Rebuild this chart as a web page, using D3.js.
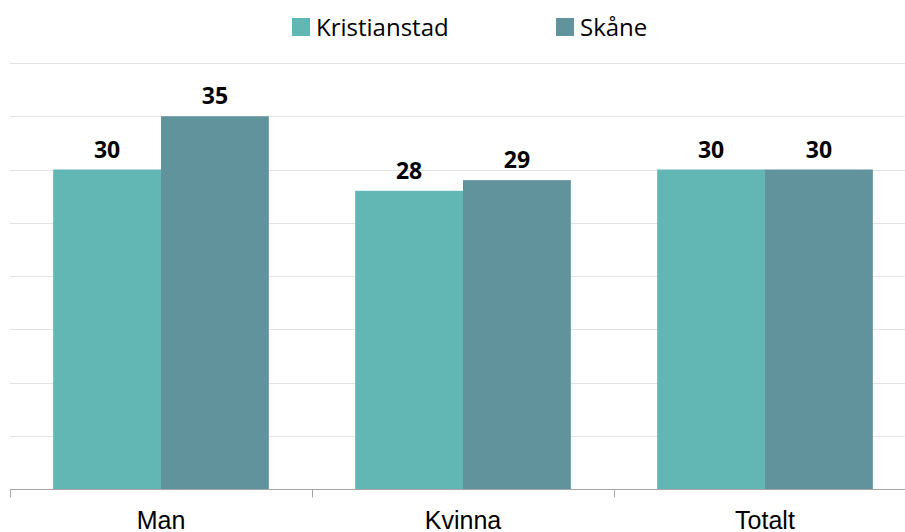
<!DOCTYPE html>
<html>
<head>
<meta charset="utf-8">
<script src="https://cdn.jsdelivr.net/npm/d3@7"></script>
<style>
body { margin: 0; background: #fff; }
</style>
</head>
<body>
<script>
const width = 905;
const height = 532;

const categories = ["Man", "Kvinna", "Totalt"];
const seriesNames = ["Kristianstad", "Skåne"];
const kristianstad = [30, 28, 30];
const skane = [35, 29, 30];
const colors = ["#62b7b4", "#60939c"];
const gridTicks = [5, 10, 15, 20, 25, 30, 35, 40];

const svg = d3.select("body")
 .append("svg")
 .attr("width", width)
 .attr("height", height);

const plotLeft = 10, plotRight = 916, plotTop = 63, plotBottom = 489;

const x = d3.scaleBand()
 .domain(categories)
 .range([plotLeft, plotRight])
 .paddingInner(0)
 .paddingOuter(0);

const inner = d3.scaleBand()
 .domain(seriesNames)
 .range([0, x.bandwidth()])
 .paddingOuter(0.4)
 .paddingInner(0);

const y = d3.scaleLinear()
 .domain([0, 40])
 .range([plotBottom, plotTop]);

// gridlines
svg.selectAll("line.grid")
 .data(gridTicks)
 .enter()
 .append("line")
 .attr("class", "grid")
 .attr("x1", plotLeft)
 .attr("x2", width)
 .attr("y1", d => Math.round(y(d)) + 0.5)
 .attr("y2", d => Math.round(y(d)) + 0.5)
 .attr("stroke", "#e3e3e3")
 .attr("stroke-width", 1);

const rows = categories.map((c, i) => ({
 cat: c,
 vals: [
    { s: seriesNames[0], v: kristianstad[i], c: colors[0] },
    { s: seriesNames[1], v: skane[i], c: colors[1] }
 ]
}));

const groups = svg.selectAll("g.cat")
 .data(rows)
 .enter()
 .append("g")
 .attr("transform", d => `translate(${x(d.cat)},0)`);

groups.selectAll("rect")
 .data(d => d.vals)
 .enter()
 .append("rect")
 .attr("x", d => inner(d.s))
 .attr("y", d => y(d.v))
 .attr("width", inner.bandwidth())
 .attr("height", d => plotBottom - y(d.v))
 .attr("fill", d => d.c);

groups.selectAll("text")
 .data(d => d.vals)
 .enter()
 .append("text")
 .attr("x", d => inner(d.s) + inner.bandwidth() / 2)
 .attr("y", d => y(d.v) - 12)
 .attr("text-anchor", "middle")
 .attr("font-family", "'Open Sans', sans-serif")
 .attr("font-weight", "bold")
 .attr("font-size", 23)
 .attr("fill", "#000")
 .text(d => d.v);

// x axis
const axis = svg.append("g")
 .attr("transform", `translate(0,${plotBottom + 0.5})`);

axis.append("line")
 .attr("x1", plotLeft)
 .attr("x2", width)
 .attr("stroke", "#a6a6a6");

axis.selectAll("line.tick")
 .data(categories)
 .enter()
 .append("line")
 .attr("class", "tick")
 .attr("x1", d => Math.round(x(d)) + 0.5)
 .attr("x2", d => Math.round(x(d)) + 0.5)
 .attr("y1", 0)
 .attr("y2", 8)
 .attr("stroke", "#a6a6a6");

axis.selectAll("text")
 .data(categories)
 .enter()
 .append("text")
 .attr("x", d => x(d) + x.bandwidth() / 2)
 .attr("y", 39)
 .attr("text-anchor", "middle")
 .attr("font-family", "'Liberation Sans', Arial, sans-serif")
 .attr("font-size", 25)
 .attr("fill", "#000")
 .text(d => d);

// legend
const legendX = [292, 556];
const legend = svg.selectAll("g.legend")
 .data(seriesNames)
 .enter()
 .append("g")
 .attr("transform", (d, i) => `translate(${legendX[i]},18)`);

legend.append("rect")
 .attr("width", 18)
 .attr("height", 18)
 .attr("fill", (d, i) => colors[i]);

legend.append("text")
 .attr("x", 24)
 .attr("y", 18)
 .attr("font-family", "'Open Sans', sans-serif")
 .attr("font-size", 24)
 .attr("fill", "#000")
 .text(d => d);
</script>
</body>
</html>
